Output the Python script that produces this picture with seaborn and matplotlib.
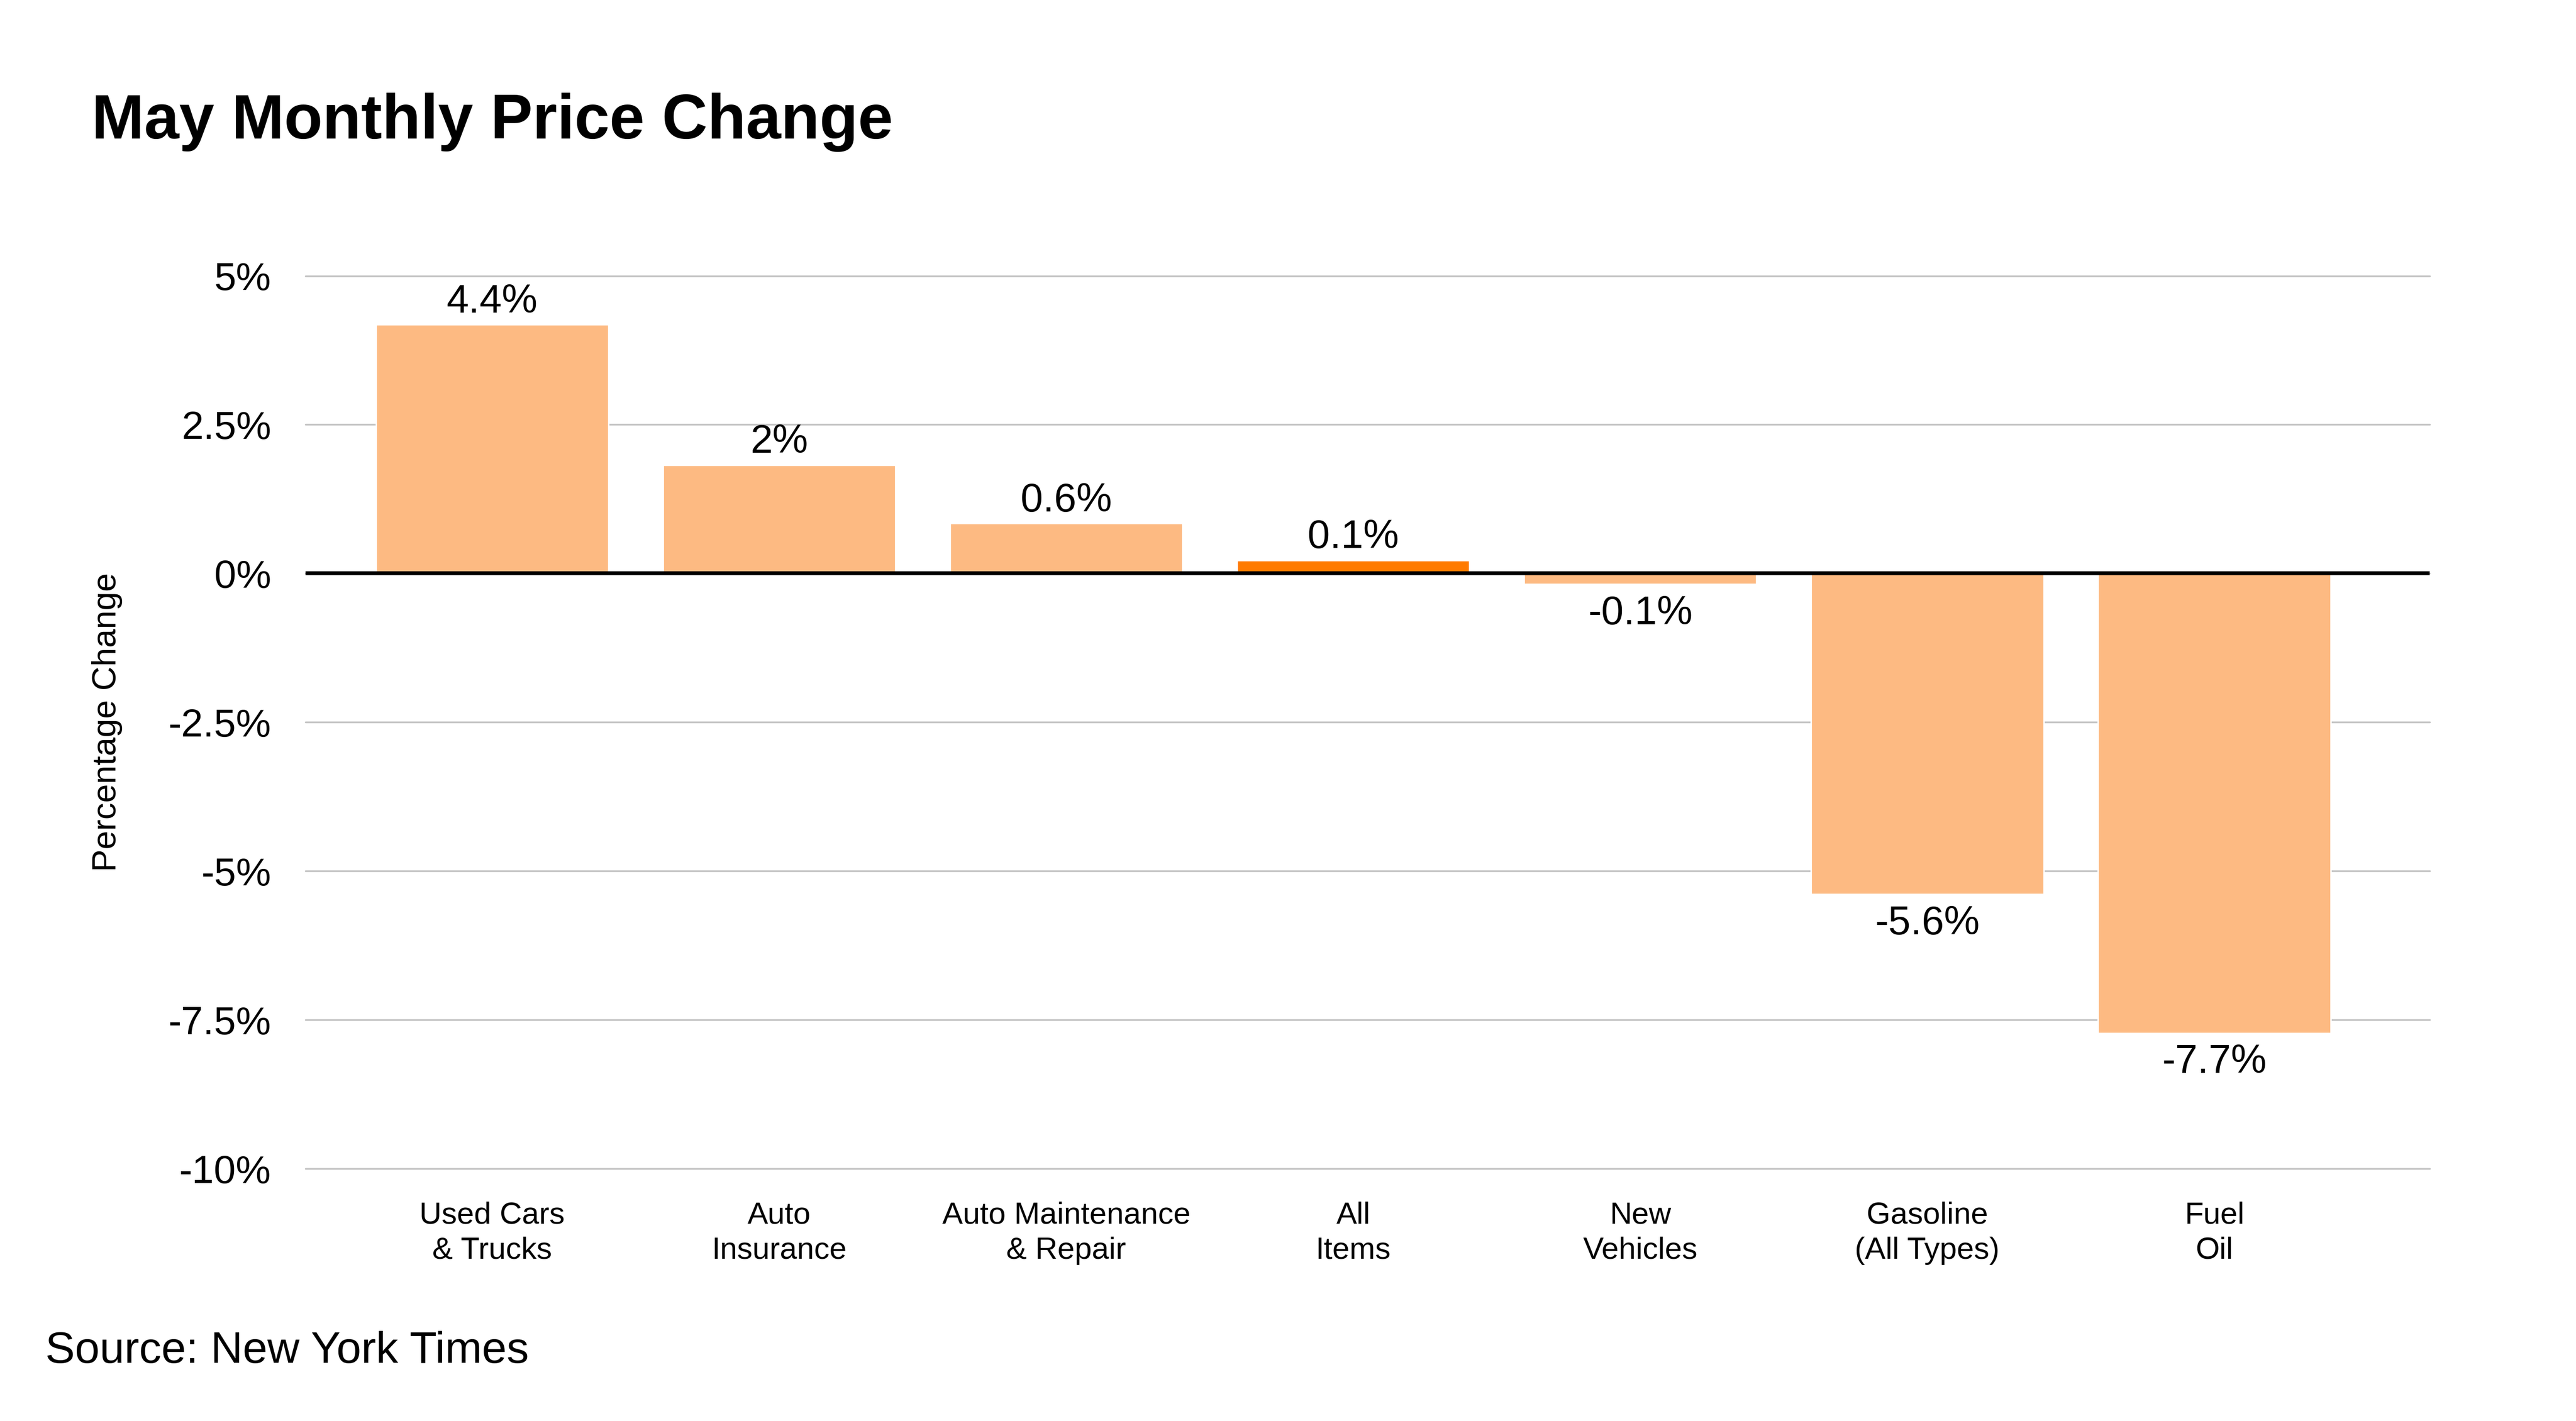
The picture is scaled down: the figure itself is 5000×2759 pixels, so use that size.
import matplotlib
matplotlib.use("Agg")
import matplotlib.pyplot as plt
import seaborn as sns

categories = ["Used Cars\n& Trucks", "Auto\nInsurance", "Auto Maintenance\n& Repair",
              "All\nItems", "New\nVehicles", "Gasoline\n(All Types)", "Fuel\nOil"]
# bar heights as drawn in the picture
values = [4.18, 1.82, 0.84, 0.22, -0.18, -5.39, -7.72]
# text printed on the bars
value_labels = ["4.4%", "2%", "0.6%", "0.1%", "-0.1%", "-5.6%", "-7.7%"]
highlight = "All\nItems"
yticks = [5, 2.5, 0, -2.5, -5, -7.5, -10]
ytick_labels = ["5%", "2.5%", "0%", "-2.5%", "-5%", "-7.5%", "-10%"]

light = "#fdba82"
dark = "#ff7a00"
colors = {c: (dark if c == highlight else light) for c in categories}

sns.set_style("white")
plt.rcParams["font.family"] = ["Liberation Sans", "DejaVu Sans"]
plt.rcParams["text.color"] = "black"
plt.rcParams["axes.labelcolor"] = "black"
plt.rcParams["xtick.color"] = "black"
plt.rcParams["ytick.color"] = "black"

fig = plt.figure(figsize=(25, 13.795), dpi=200)
ax = fig.add_axes([0.1186, 0.1776, 0.8246, 0.6283])

sns.barplot(x=categories, y=values, hue=categories, palette=colors, legend=False,
            width=0.81, saturation=1, ax=ax, zorder=2)

ax.set_xlim(-0.65, 6.75)
ax.set_ylim(-10, 5)
ax.set_yticks(yticks)
ax.set_yticklabels(ytick_labels)
ax.grid(axis="y", color="#c4c4c4", linewidth=1.25, zorder=0)
ax.set_axisbelow(True)
for gl in ax.get_ygridlines():
    gl.set_clip_on(False)
ax.axhline(0, color="black", linewidth=2.7, zorder=3)
for s in ax.spines.values():
    s.set_visible(False)

ax.tick_params(axis="y", length=0, pad=24, labelsize=27.5)
ax.tick_params(axis="x", length=0, pad=23, labelsize=21.5)
for t in ax.get_xticklabels():
    t.set_linespacing(1.3)

# value labels
for patch, val, lab in zip(ax.patches, values, value_labels):
    xc = patch.get_x() + patch.get_width() / 2
    if val >= 0:
        ax.annotate(lab, (xc, val), xytext=(0, 8.5), textcoords="offset points",
                    ha="center", va="baseline", fontsize=28)
    else:
        ax.annotate(lab, (xc, val), xytext=(0, -7.5), textcoords="offset points",
                    ha="center", va="top", fontsize=28)

ax.set_xlabel("")
ax.set_ylabel("Percentage Change", fontsize=23.5)
ax.yaxis.set_label_coords(-0.086, 0.5)

fig.text(0.0356, 0.9025, "May Monthly Price Change", fontsize=44,
         fontweight="bold", ha="left", va="baseline")
fig.text(0.0176, 0.041, "Source: New York Times", fontsize=31,
         ha="left", va="baseline")

fig.savefig("out.png", dpi=200, facecolor="white")
